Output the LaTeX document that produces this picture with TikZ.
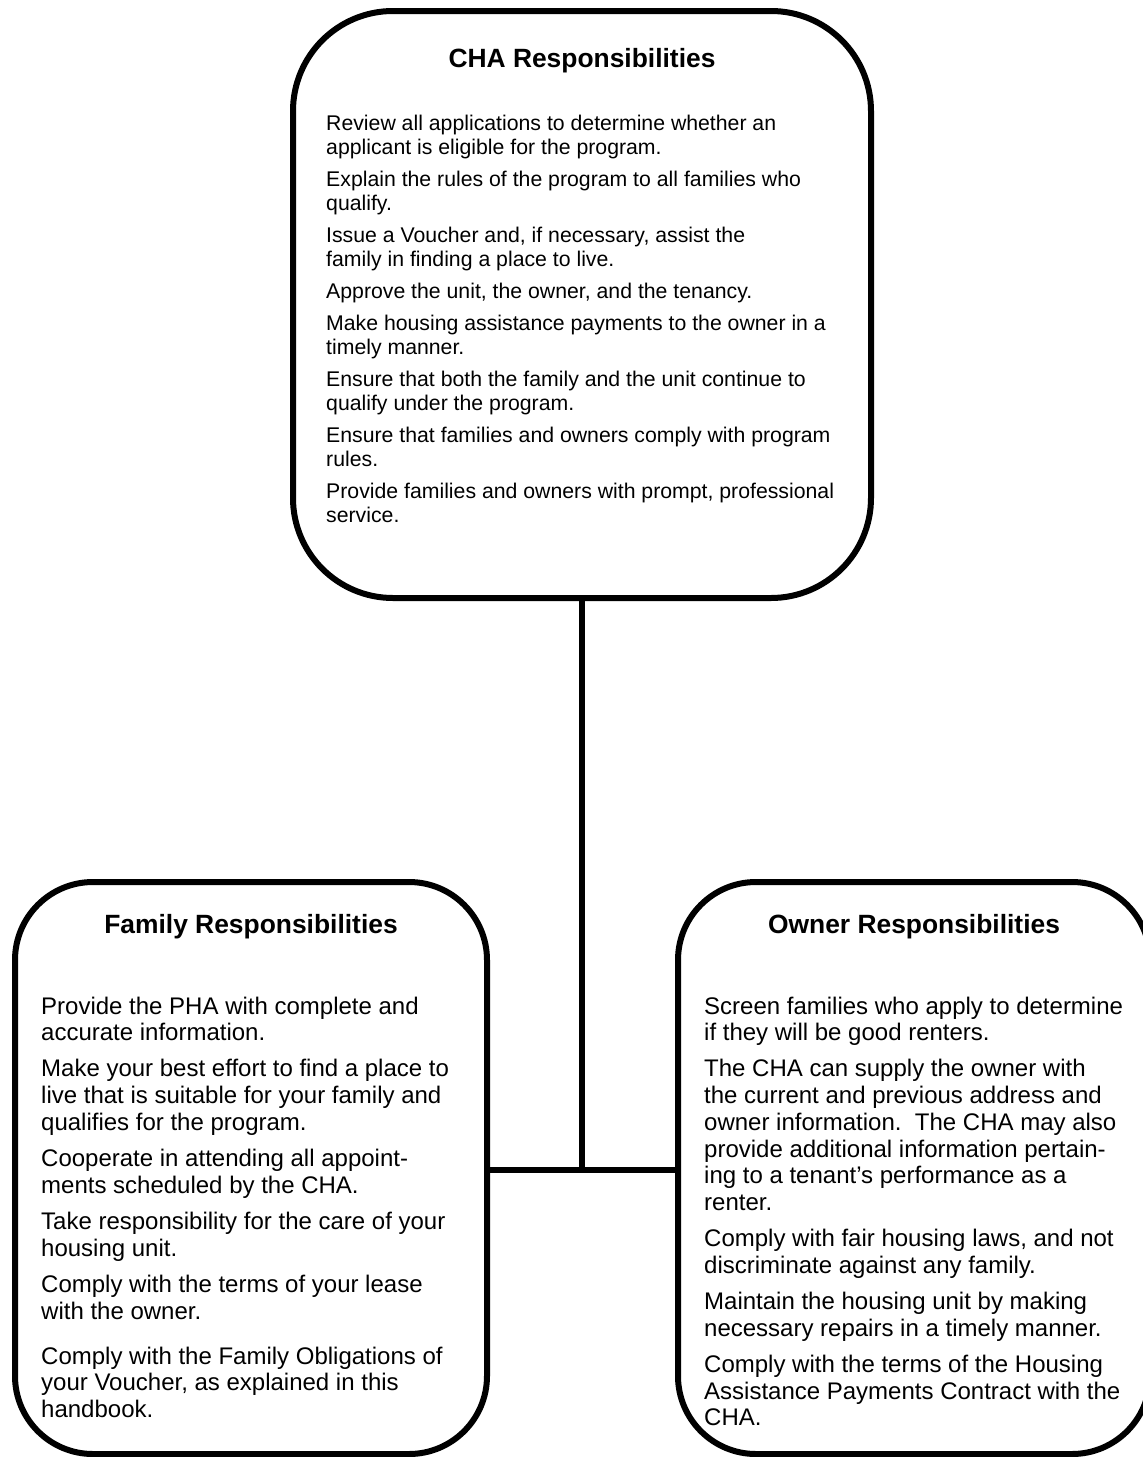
\documentclass[tikz,border=0pt]{standalone}
\usepackage{fontspec}
\setmainfont{Liberation Sans}
\tikzset{
  bx/.style={draw=black, line width=6pt, rounded corners=#1, inner sep=0pt, fill=white},
  head/.style={anchor=base, inner sep=0pt, font=\bfseries\fontsize{26.4}{30}\selectfont},
  body/.style={anchor=base west, inner sep=0pt},
  conn/.style={draw=black, line width=6pt},
}
\newcommand{\topbody}[1]{\parbox[t]{600pt}{\fontsize{21.25}{24}\selectfont\setlength{\parskip}{8pt}\raggedright #1}}
\newcommand{\lowbody}[1]{\parbox[t]{480pt}{\fontsize{24}{26.7}\selectfont\setlength{\parskip}{9.5pt}\raggedright #1}}
\begin{document}
\begin{tikzpicture}[x=1pt,y=-1pt]
\fill[white] (0,0) rectangle (1143,1457);
\useasboundingbox (0,0) rectangle (1143,1457);

% boxes
\node[bx=100pt, minimum width=578pt, minimum height=587pt] (cha) at (582,304.5) {};
\node[bx=78pt, minimum width=472pt, minimum height=572pt] (fam) at (251,1168) {};
\node[bx=78pt, minimum width=472pt, minimum height=572pt] (own) at (914,1168) {};

% connectors
\coordinate (j) at (582,1170);
\draw[conn] (cha.south) -- (j);
\draw[conn] (fam.east |- j) -- (own.west |- j);

% headings
\node[head] (chah) at (582,67) {CHA Responsibilities};
\node[head] (famh) at (251,933) {Family Responsibilities};
\node[head] (ownh) at (914,933) {Owner Responsibilities};

% body texts
\node[body] (chat) at (326,130) {\topbody{%
Review all applications to determine whether an\\ applicant is eligible for the program.\par
Explain the rules of the program to all families who\\ qualify.\par
Issue a Voucher and, if necessary, assist the\\ family in finding a place to live.\par
Approve the unit, the owner, and the tenancy.\par
Make housing assistance payments to the owner in a\\ timely manner.\par
Ensure that both the family and the unit continue to\\ qualify under the program.\par
Ensure that families and owners comply with program\\ rules.\par
Provide families and owners with prompt, professional\\ service.}};

\node[body] (famt) at (41,1014) {\lowbody{%
Provide the PHA with complete and\\ accurate information.\par
Make your best effort to find a place to\\ live that is suitable for your family and\\ qualifies for the program.\par
Cooperate in attending all appoint-\\ ments scheduled by the CHA.\par
Take responsibility for the care of your\\ housing unit.\par
Comply with the terms of your lease\\ with the owner.\par
\vspace{9pt}
Comply with the Family Obligations of\\ your Voucher, as explained in this\\ handbook.}};

\node[body] (ownt) at (704,1014) {\lowbody{%
Screen families who apply to determine\\ if they will be good renters.\par
The CHA can supply the owner with\\ the current and previous address and\\ owner information.\hspace{0.556em}The CHA may also\\ provide additional information pertain-\\ ing to a tenant’s performance as a\\ renter.\par
Comply with fair housing laws, and not\\ discriminate against any family.\par
Maintain the housing unit by making\\ necessary repairs in a timely manner.\par
Comply with the terms of the Housing\\ Assistance Payments Contract with the\\ CHA.}};
\end{tikzpicture}
\end{document}
